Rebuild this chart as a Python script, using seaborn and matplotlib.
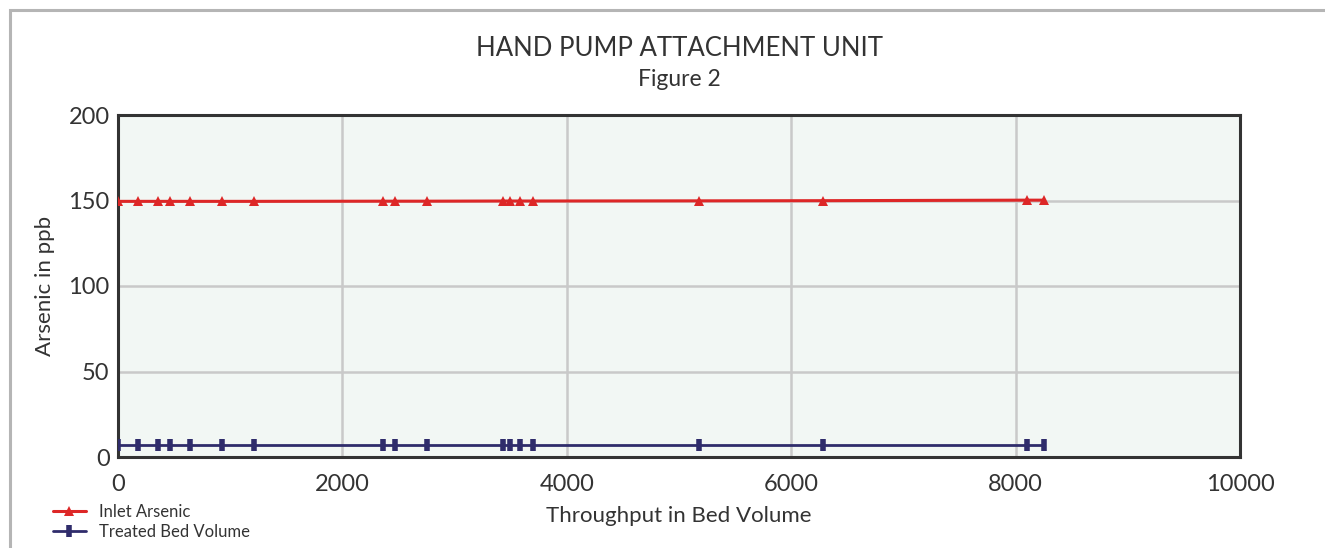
import matplotlib
matplotlib.use('Agg')
import matplotlib.pyplot as plt
from matplotlib.patches import Rectangle
import seaborn as sns
import pandas as pd

# Data
bed_volume = [0, 180, 360, 460, 640, 930, 1210, 2360, 2470, 2750,
              3430, 3490, 3580, 3700, 5180, 6280, 8100, 8250]
inlet_arsenic = [149.5, 149.5, 149.5, 149.5, 149.5, 149.5, 149.5, 149.6, 149.6, 149.6,
                 149.7, 149.7, 149.7, 149.7, 149.8, 149.9, 150.2, 150.2]
treated_arsenic = [7, 7, 7, 7, 7, 7, 7, 7, 7, 7,
                   7, 7, 7, 7, 7, 7, 7, 7]

x_ticks = [0, 2000, 4000, 6000, 8000, 10000]
y_ticks = [0, 50, 100, 150, 200]

df = pd.DataFrame({'bv': bed_volume, 'inlet': inlet_arsenic, 'treated': treated_arsenic})

sns.set_style('white')
plt.rcParams['font.family'] = ['Lato', 'DejaVu Sans']
txt = '#333333'

fig = plt.figure(figsize=(13.25, 5.48), dpi=100)
ax = fig.add_axes([118 / 1325, 1 - 457 / 548, 1122 / 1325, 342 / 548])
ax.set_facecolor('#f2f7f4')

red = '#dd2727'
navy = '#2f2c6b'
sns.lineplot(data=df, x='bv', y='inlet', ax=ax, color=red, linewidth=2.2,
             marker='^', markersize=7, markeredgewidth=0, markerfacecolor=red,
             sort=False, label='Inlet Arsenic', zorder=3)
sns.lineplot(data=df, x='bv', y='treated', ax=ax, color=navy, linewidth=2.0,
             marker='|', markersize=9, markeredgewidth=4, markeredgecolor=navy,
             sort=False, label='Treated Bed Volume', zorder=3)

ax.set_xlim(0, 10000)
ax.set_ylim(0, 200)
ax.set_xticks(x_ticks)
ax.set_yticks(y_ticks)
ax.grid(True, color='#c9c9c9', linewidth=1.8, zorder=0)
ax.set_axisbelow(True)
ax.tick_params(length=0, labelsize=17, colors=txt)
ax.tick_params(axis='x', pad=12)
ax.tick_params(axis='y', pad=6)
for s in ax.spines.values():
    s.set_color('#333333')
    s.set_linewidth(2.2)
    s.set_visible(True)

ax.set_xlabel('Throughput in Bed Volume', fontsize=16, color=txt, labelpad=8)
ax.set_ylabel('Arsenic in ppb', fontsize=16, color=txt, labelpad=10)

fig.text(0.513, 1 - 49 / 548, 'HAND PUMP ATTACHMENT UNIT', ha='center', va='center',
         fontsize=18.5, color=txt)
fig.text(0.513, 1 - 80 / 548, 'Figure 2', ha='center', va='center',
         fontsize=16.5, color=txt)

leg = ax.legend(loc='upper left', bbox_to_anchor=(46 / 1325, 1 - 497 / 548),
                bbox_transform=fig.transFigure, frameon=False, fontsize=12,
                handlelength=2.0, labelspacing=0.25, borderaxespad=0)
for t in leg.get_texts():
    t.set_color(txt)

# page frame (top and left edges)
fig.add_artist(Rectangle((10.5 / 1325, -0.1), 1.2, 1 - 10.5 / 548 + 0.1,
                         transform=fig.transFigure, fill=False,
                         edgecolor='#b5b5b5', linewidth=2.2))

plt.savefig('out.png', dpi=100)
